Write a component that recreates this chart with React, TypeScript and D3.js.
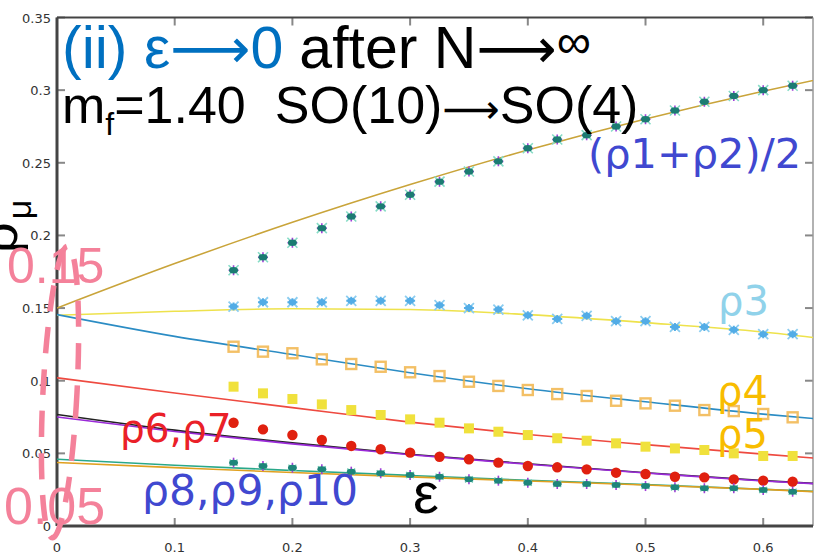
import React from 'react';
import * as d3 from 'd3';

const W = 815;
const H = 556;

// x positions of the sampled points (epsilon)
const eps = [0.15, 0.175, 0.2, 0.225, 0.25, 0.275, 0.3, 0.325, 0.35, 0.375, 0.4, 0.425, 0.45, 0.475, 0.5, 0.525, 0.55, 0.575, 0.6, 0.625];

// measured values
const rho12 = [0.176, 0.185, 0.195, 0.205, 0.213, 0.220, 0.228, 0.237, 0.244, 0.251, 0.260, 0.266, 0.269, 0.275, 0.280, 0.286, 0.292, 0.296, 0.300, 0.303];
const rho3 = [0.151, 0.154, 0.154, 0.154, 0.155, 0.155, 0.155, 0.152, 0.150, 0.149, 0.145, 0.1425, 0.1447, 0.141, 0.141, 0.137, 0.137, 0.135, 0.132, 0.132];
const rho4 = [0.1234, 0.120, 0.1189, 0.1147, 0.1115, 0.1096, 0.1058, 0.1032, 0.0993, 0.0964, 0.0936, 0.0908, 0.0895, 0.0862, 0.0844, 0.0828, 0.0798, 0.0791, 0.0771, 0.0748];
const rho5 = [0.0959, 0.0913, 0.0874, 0.0837, 0.0798, 0.0764, 0.0734, 0.0711, 0.0672, 0.0649, 0.0626, 0.0604, 0.0587, 0.0569, 0.0546, 0.0534, 0.0523, 0.0500, 0.0482, 0.0482];
const rho67 = [0.0711, 0.0665, 0.0626, 0.0592, 0.0551, 0.0528, 0.0505, 0.0477, 0.0459, 0.0436, 0.0413, 0.0404, 0.0390, 0.0367, 0.0358, 0.0339, 0.0335, 0.0321, 0.0312, 0.0305];
const rho8 = [0.0436, 0.0413, 0.0401, 0.0390, 0.0374, 0.0363, 0.0351, 0.0339, 0.0321, 0.0312, 0.0298, 0.0289, 0.0289, 0.0282, 0.0275, 0.0266, 0.0260, 0.0260, 0.0248, 0.0236];

// fit curves (read at these epsilon values)
const fitEps = [0, 0.1, 0.2, 0.3, 0.4, 0.5, 0.6, 0.65];
const fitGold = [0.150, 0.1806, 0.209, 0.235, 0.2588, 0.2802, 0.2993, 0.308];
const fitYellow = [0.145, 0.1478, 0.1495, 0.1490, 0.1455, 0.1400, 0.1335, 0.1290];
const fitBlue = [0.1455, 0.1305, 0.118, 0.1055, 0.0945, 0.0855, 0.077, 0.0735];
const fitRed = [0.102, 0.0915, 0.0815, 0.0715, 0.063, 0.056, 0.0495, 0.0463];
const fitBlack = [0.0768, 0.066, 0.0572, 0.0494, 0.0428, 0.0367, 0.0312, 0.029];
const fitPurple = [0.075, 0.065, 0.0565, 0.049, 0.0425, 0.0365, 0.031, 0.0288];
const fitGreen = [0.046, 0.0418, 0.0382, 0.0348, 0.0315, 0.0285, 0.0253, 0.0236];
const fitOrange = [0.0437, 0.0402, 0.0368, 0.0338, 0.031, 0.0282, 0.0252, 0.0234];

const xTicks = [0, 0.1, 0.2, 0.3, 0.4, 0.5, 0.6];
const xTickLabels = ['0', '0.1', '0.2', '0.3', '0.4', '0.5', '0.6'];
const yTicks = [0, 0.05, 0.1, 0.15, 0.2, 0.25, 0.3, 0.35];
const yTickLabels = ['0', '0.05', '0.1', '0.15', '0.2', '0.25', '0.3', '0.35'];

const x = d3.scaleLinear().domain([0, 0.6423]).range([57, 813]);
const y = d3.scaleLinear().domain([0, 0.35]).range([526, 17.5]);

const fits = [
  { v: fitGold, c: '#c9a43a' },
  { v: fitYellow, c: '#eee24c' },
  { v: fitBlue, c: '#2b8cc4' },
  { v: fitRed, c: '#ee4a40' },
  { v: fitBlack, c: '#222222' },
  { v: fitPurple, c: '#9a2ad8' },
  { v: fitGreen, c: '#2aa88a' },
  { v: fitOrange, c: '#e0a020' },
];

const line = d3
  .line<number>()
  .x((_, i) => x(fitEps[i]))
  .y((d) => y(d))
  .curve(d3.curveMonotoneX);

const SANS = 'Liberation Sans, Arial, sans-serif';
const DEJA = 'DejaVu Sans, Verdana, sans-serif';

function Star12({ cx, cy }: { cx: number; cy: number }) {
  return (
    <g transform={`translate(${cx},${cy})`}>
      <path d="M-5,-5L5,5M-5,5L5,-5" stroke="#86dcc6" strokeWidth={1.6} />
      <path d="M0,-5L0,5M-5,0L5,0" stroke="#a040d8" strokeWidth={1.6} />
      <ellipse rx={4.5} ry={3.2} fill="#1b7b72" />
    </g>
  );
}

function Star3({ cx, cy }: { cx: number; cy: number }) {
  return (
    <g transform={`translate(${cx},${cy})`}>
      <path d="M-5,-5L5,5M-5,5L5,-5" stroke="#8ccdf0" strokeWidth={1.8} />
      <path d="M0,-4L0,4M-5,0L5,0" stroke="#58b0e6" strokeWidth={2} />
      <ellipse rx={4} ry={3} fill="#52ace6" />
    </g>
  );
}

function Star8({ cx, cy }: { cx: number; cy: number }) {
  return (
    <g transform={`translate(${cx},${cy})`}>
      <path d="M0,-5L0,5" stroke="#a040d8" strokeWidth={1.6} />
      <path d="M-4,-3L4,3M-4,3L4,-3" stroke="#6ccab0" strokeWidth={1.4} />
      <ellipse rx={4.5} ry={3} fill="#1e857a" />
    </g>
  );
}

export default function App() {
  return (
    <svg
      width={W}
      height={H}
      style={{ position: 'absolute', left: 0, top: 0, background: '#fff' }}
    >
      <defs>
        <clipPath id="plot">
          <rect x={57} y={17.5} width={756} height={508.5} />
        </clipPath>
      </defs>
      <rect width={W} height={H} fill="#fff" />

      {/* ticks */}
      {xTicks.map((t) => (
        <g key={'xt' + t}>
          <line x1={x(t)} x2={x(t)} y1={526} y2={518} stroke="#888" strokeWidth={2} />
          <line x1={x(t)} x2={x(t)} y1={17.5} y2={25.5} stroke="#888" strokeWidth={2} />
        </g>
      ))}
      {yTicks.map((t) => (
        <g key={'yt' + t}>
          <line x1={57} x2={65} y1={y(t)} y2={y(t)} stroke="#888" strokeWidth={2} />
          <line x1={813} x2={805} y1={y(t)} y2={y(t)} stroke="#888" strokeWidth={2} />
        </g>
      ))}

      {/* frame */}
      <line x1={57} x2={813} y1={17.5} y2={17.5} stroke="#444" strokeWidth={2} />
      <line x1={813} x2={813} y1={17.5} y2={526} stroke="#999" strokeWidth={1.5} />
      <line x1={57} x2={813} y1={526} y2={526} stroke="#444" strokeWidth={3} />
      <line x1={57} x2={57} y1={17.5} y2={526} stroke="#444" strokeWidth={3} />

      {/* tick labels */}
      {xTicks.map((t, i) => (
        <text key={'xl' + t} x={x(t)} y={552} textAnchor="middle" fontFamily={DEJA} fontSize={13} fill="#333">
          {xTickLabels[i]}
        </text>
      ))}
      {yTicks.map((t, i) => (
        <text key={'yl' + t} x={51} y={y(t) + 5} textAnchor="end" fontFamily={DEJA} fontSize={13} fill="#333">
          {yTickLabels[i]}
        </text>
      ))}

      {/* fit lines */}
      <g clipPath="url(#plot)">
        {fits.map((f, i) => (
          <path key={'fit' + i} d={line(f.v) || ''} fill="none" stroke={f.c} strokeWidth={1.6} />
        ))}
      </g>

      {/* markers */}
      {eps.map((e, i) => (
        <rect key={'r4' + i} x={x(e) - 5} y={y(rho4[i]) - 5} width={10} height={10} fill="none" stroke="#f0b040" strokeOpacity={0.8} strokeWidth={2.4} />
      ))}
      {eps.map((e, i) => (
        <rect key={'r5' + i} x={x(e) - 5} y={y(rho5[i]) - 5} width={10} height={10} fill="#f0e13c" />
      ))}
      {eps.map((e, i) => (
        <circle key={'r67' + i} cx={x(e)} cy={y(rho67[i])} r={5.2} fill="#e0200f" />
      ))}
      {eps.map((e, i) => (
        <Star8 key={'r8' + i} cx={x(e)} cy={y(rho8[i])} />
      ))}
      {eps.map((e, i) => (
        <Star3 key={'r3' + i} cx={x(e)} cy={y(rho3[i])} />
      ))}
      {eps.map((e, i) => (
        <Star12 key={'r12' + i} cx={x(e)} cy={y(rho12[i])} />
      ))}

      {/* annotations */}
      <text x={62} y={68} fontFamily={SANS} fontSize={59}>
        <tspan fill="#0070c0">(ii) ε</tspan>
        <tspan fill="#0070c0" fontFamily={DEJA} fontSize={56}>⟶</tspan>
        <tspan fill="#0070c0">0</tspan>
        <tspan fill="#000" dx={16}>after N</tspan>
        <tspan fill="#000" fontFamily={DEJA} fontSize={56}>⟶</tspan>
        <tspan fill="#000" fontSize={48} dy={-10}>∞</tspan>
      </text>
      <text x={62} y={123} fontFamily={SANS} fontSize={52} fill="#000">
        m<tspan fontSize={32} dy={12}>f</tspan>
        <tspan dy={-12}>=1.40</tspan>
        <tspan dx={29}>SO(10)</tspan>
        <tspan fontFamily={DEJA} fontSize={40}>⟶</tspan>
        <tspan>SO(4)</tspan>
      </text>

      <text x={588} y={168} fontFamily={DEJA} fontSize={41.5} fill="#4048d0">(ρ1+ρ2)/2</text>
      <text x={718} y={315} fontFamily={DEJA} fontSize={40} fill="#90d2ea">ρ3</text>
      <text x={717} y={405} fontFamily={DEJA} fontSize={40} fill="#f8bc00">ρ4</text>
      <text x={717} y={448} fontFamily={DEJA} fontSize={40} fill="#f8bc00">ρ5</text>
      <text x={120} y={442} fontFamily={DEJA} fontSize={39} fill="#ea2028">ρ6,ρ7</text>
      <text x={142} y={505} fontFamily={DEJA} fontSize={42.5} fill="#4048d0">ρ8,ρ9,ρ10</text>
      <text x={413} y={513} fontFamily={SANS} fontSize={58} fill="#000">ε</text>

      {/* y-axis label */}
      <text transform="translate(17,253) rotate(-90)" fontFamily={SANS} fontSize={54} fill="#000">
        ρ<tspan fontSize={34} dy={14} dx={3}>μ</tspan>
      </text>

      {/* pink highlight */}
      <ellipse
        cx={60}
        cy={392}
        rx={17}
        ry={146}
        transform="rotate(3,60,392)"
        fill="none"
        stroke="#f4819a"
        strokeWidth={5.5}
        strokeDasharray="26 16"
      />
      <text x={7} y={283} fontFamily={SANS} fontSize={50} fill="#f4819a">0.15</text>
      <text x={4} y={524} fontFamily={SANS} fontSize={52} fill="#f4819a">0.05</text>
    </svg>
  );
}
